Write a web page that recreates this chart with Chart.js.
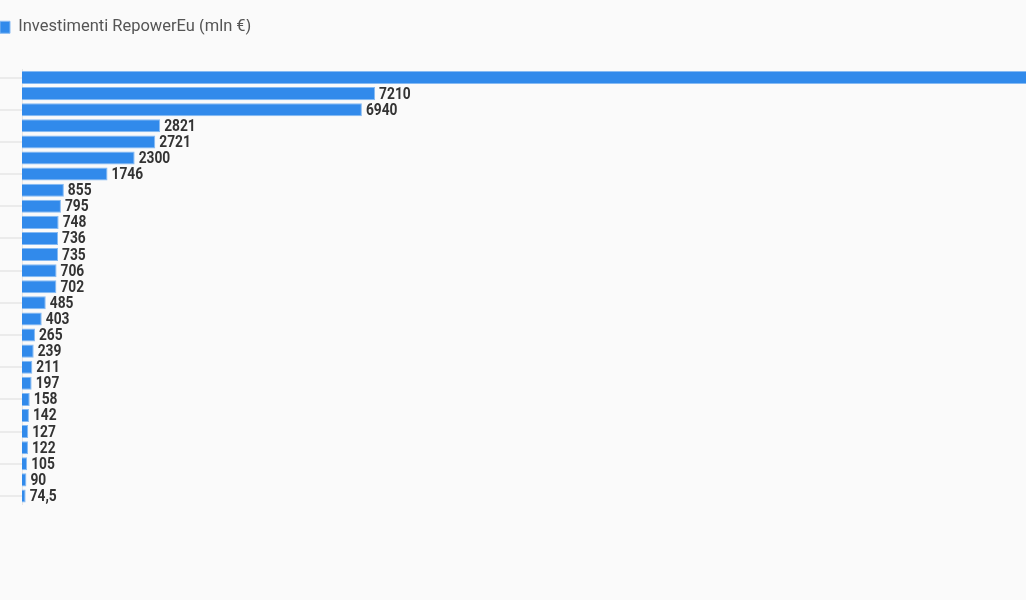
<!DOCTYPE html>
<html lang="it">
<head>
    <meta charset="UTF-8">
    <title>Investimenti RepowerEu</title>
    <script src="https://cdn.jsdelivr.net/npm/chart.js"></script>
    <style>
        html, body { margin: 0; padding: 0; background: #fafafa; overflow: hidden; }
        #wrap { width: 1026px; height: 600px; }
    </style>
</head>
<body>
    <div id="wrap">
        <canvas id="repowerChart"></canvas>
    </div>
<script>
// categories are not shown in the picture (axis labels are hidden)
var categories = ['Misura 1', 'Misura 2', 'Misura 3', 'Misura 4', 'Misura 5', 'Misura 6', 'Misura 7',
    'Misura 8', 'Misura 9', 'Misura 10', 'Misura 11', 'Misura 12', 'Misura 13', 'Misura 14',
    'Misura 15', 'Misura 16', 'Misura 17', 'Misura 18', 'Misura 19', 'Misura 20', 'Misura 21',
    'Misura 22', 'Misura 23', 'Misura 24', 'Misura 25', 'Misura 26', 'Misura 27'];
// first value runs off the right edge, estimated
var investimenti = [22000, 7210, 6940, 2821, 2721, 2300, 1746, 855, 795, 748, 736, 735, 706, 702,
    485, 403, 265, 239, 211, 197, 158, 142, 127, 122, 105, 90, 74.5];
var seriesName = 'Investimenti RepowerEu (mln €)';
var xMax = 20500;

// draws the value at the end of each bar (squeezed to look condensed)
var valueLabels = {
    id: 'valueLabels',
    afterDatasetsDraw: function(chart) {
        var ctx = chart.ctx;
        var meta = chart.getDatasetMeta(0);
        var squeeze = 0.86;
        ctx.save();
        ctx.font = 'bold 16px "Roboto", sans-serif';
        ctx.fillStyle = '#333333';
        ctx.textAlign = 'left';
        ctx.textBaseline = 'middle';
        ctx.scale(squeeze, 1);
        meta.data.forEach(function(bar, i) {
            var txt = String(investimenti[i]).replace('.', ',');
            ctx.fillText(txt, (bar.x + 4) / squeeze, bar.y + 1);
        });
        ctx.restore();
    }
};

// extra space under the legend
var legendSpace = {
    id: 'legendSpace',
    beforeInit: function(chart) {
        var fit = chart.legend.fit;
        chart.legend.fit = function() {
            fit.bind(chart.legend)();
            this.height += 24;
        };
    }
};

var ctx = document.getElementById('repowerChart').getContext('2d');
var repowerChart = new Chart(ctx, {
    type: 'bar',
    data: {
        labels: categories,
        datasets: [{
            label: seriesName,
            data: investimenti,
            backgroundColor: '#318aeb',
            borderColor: '#86baf3',
            borderWidth: 1,
            barPercentage: 0.9,
            categoryPercentage: 0.9
        }]
    },
    options: {
        indexAxis: 'y',
        responsive: true,
        maintainAspectRatio: false,
        animation: false,
        layout: { padding: { top: 19, bottom: 96, left: 0, right: 0 } },
        plugins: {
            legend: {
                display: true,
                position: 'top',
                align: 'start',
                labels: {
                    boxWidth: 10,
                    boxHeight: 12,
                    padding: 0,
                    color: '#555555',
                    font: { family: 'Roboto', size: 16.5 }
                }
            },
            tooltip: { enabled: false }
        },
        scales: {
            x: {
                display: false,
                min: 0,
                max: xMax
            },
            y: {
                grid: {
                    drawOnChartArea: false,
                    offset: false,
                    tickLength: 22,
                    lineWidth: 2,
                    color: '#ebebeb'
                },
                border: { color: '#e6e6e6', width: 1 },
                ticks: {
                    padding: 0,
                    callback: function() { return ''; }
                }
            }
        }
    },
    plugins: [valueLabels, legendSpace]
});
</script>
</body>
</html>
